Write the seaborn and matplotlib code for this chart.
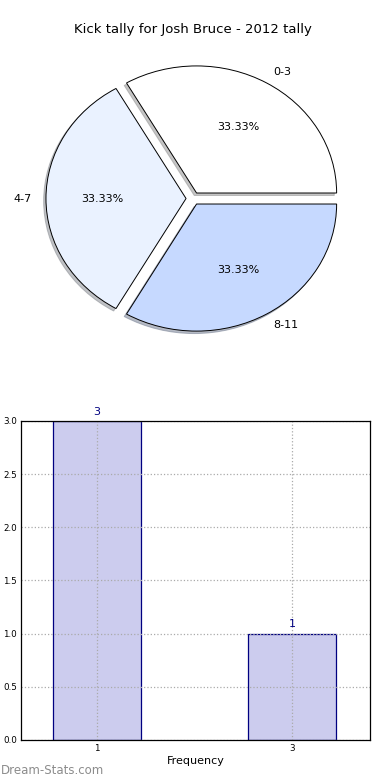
import matplotlib
matplotlib.use("Agg")
import matplotlib.pyplot as plt
import seaborn as sns

pie_labels = ['0-3', '4-7', '8-11']
pie_values = [1, 1, 1]
pie_colors = ['#ffffff', '#eaf2ff', '#c6d9ff']

bar_categories = ['1', '3']
bar_values = [3, 1]

sns.set_style("white")
plt.rcParams['font.family'] = ['DejaVu Sans']
plt.rcParams['text.color'] = 'black'
plt.rcParams['axes.labelcolor'] = 'black'
plt.rcParams['xtick.color'] = 'black'
plt.rcParams['ytick.color'] = 'black'

fig = plt.figure(figsize=(3.9, 7.8), dpi=100)

# pie on top
ax_pie = fig.add_axes([0.064, 0.55, 0.862, 0.391])
wedges, texts, autotexts = ax_pie.pie(
    pie_values, labels=pie_labels, colors=pie_colors, explode=[0.05] * 3,
    autopct='%.2f%%', shadow={'ox': -0.012, 'oy': -0.014, 'shade': 0.45},
    startangle=0, labeldistance=1.1,
    wedgeprops={'edgecolor': 'black', 'linewidth': 0.7},
    textprops={'fontsize': 8, 'color': 'black'})
ax_pie.set_aspect('auto')
ax_pie.set_xlim(-1.2, 1.2)
ax_pie.set_ylim(-1.2, 1.2)
ax_pie.axis('off')
fig.text(0.495, 0.962, 'Kick tally for Josh Bruce - 2012 tally', ha='center', va='center',
         fontsize=9.5, color='black')

# frequency bars below
ax_bar = fig.add_axes([0.054, 0.0513, 0.895, 0.409])
sns.barplot(x=bar_categories, y=bar_values, color='#ccccee', edgecolor='#000080',
            linewidth=0.9, width=0.45, saturation=1, ax=ax_bar)
ax_bar.set_xlim(-0.39, 1.40)
ax_bar.set_ylim(0, 3.0)
ax_bar.set_yticks([0.0, 0.5, 1.0, 1.5, 2.0, 2.5, 3.0])
ax_bar.set_yticklabels(['%.1f' % v for v in [0.0, 0.5, 1.0, 1.5, 2.0, 2.5, 3.0]])
ax_bar.set_axisbelow(False)
ax_bar.grid(True, linestyle=':', color='#aaaaaa', linewidth=0.9)
ax_bar.tick_params(direction='in', labelsize=6.3, length=3, pad=3)
ax_bar.set_xlabel('Frequency', fontsize=8, labelpad=2)
for spine in ax_bar.spines.values():
    spine.set_visible(True)
    spine.set_color('black')
    spine.set_linewidth(0.9)
    spine.set_zorder(4)
for i, v in enumerate(bar_values):
    ax_bar.text(i, v + 0.04, str(v), ha='center', va='bottom', color='#000080', fontsize=8)

fig.text(0.003, 0.012, 'Dream-Stats.com', ha='left', va='center', fontsize=8.5,
         color='#8c8c8c')

fig.savefig('out.png', dpi=100)
